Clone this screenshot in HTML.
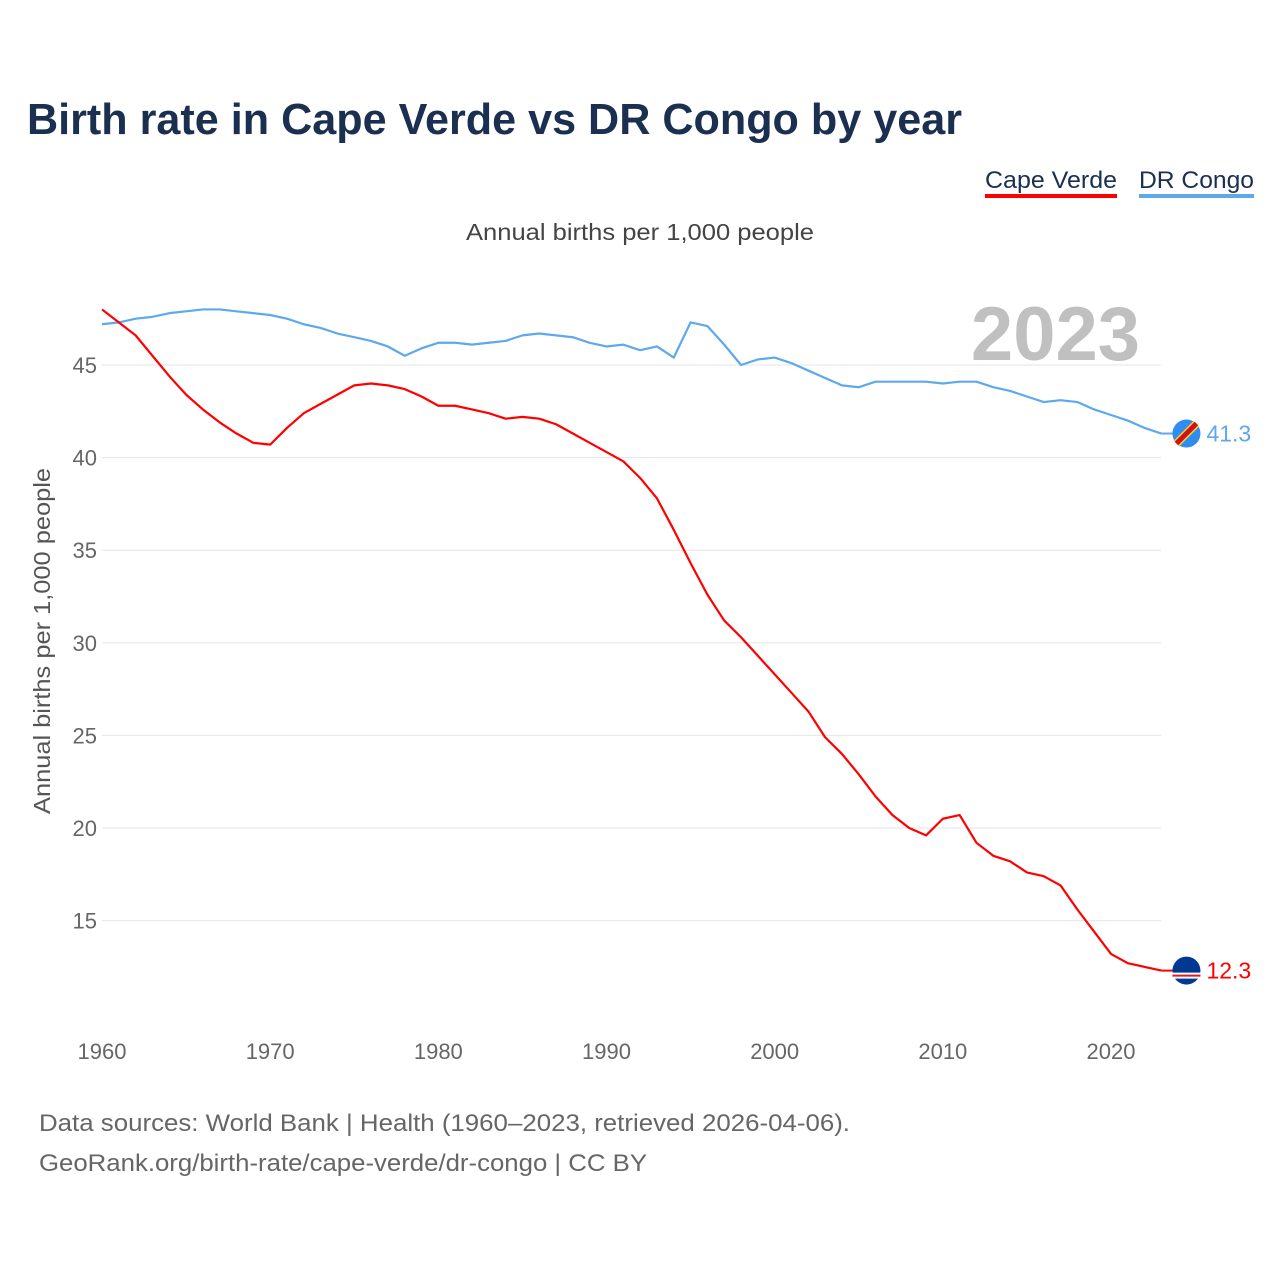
<!DOCTYPE html>
<html><head><meta charset="utf-8"><style>
body{margin:0;background:#fff;width:1280px;height:1280px;overflow:hidden;font-family:"Liberation Sans",sans-serif}
</style></head><body>
<svg width="1280" height="1280" xmlns="http://www.w3.org/2000/svg">
<text x="27" y="134" font-size="44" font-weight="bold" fill="#1b3050" textLength="935" lengthAdjust="spacingAndGlyphs">Birth rate in Cape Verde vs DR Congo by year</text>
<g><text x="985" y="188" font-size="24" fill="#1b3050" textLength="132" lengthAdjust="spacingAndGlyphs">Cape Verde</text><rect x="985" y="194" width="132" height="4" fill="#ff0000"/></g>
<g><text x="1139" y="188" font-size="24" fill="#1b3050" textLength="115" lengthAdjust="spacingAndGlyphs">DR Congo</text><rect x="1139" y="194" width="115" height="4" fill="#5ea8ec"/></g>
<text x="466" y="240" font-size="23" fill="#444" textLength="348" lengthAdjust="spacingAndGlyphs">Annual births per 1,000 people</text>
<text x="1140" y="360" font-size="76" font-weight="bold" fill="#c0c0c0" text-anchor="end">2023</text>
<text transform="translate(50,814) rotate(-90)" font-size="23" fill="#555" textLength="346" lengthAdjust="spacingAndGlyphs">Annual births per 1,000 people</text>
<g id="grid"></g><g id="series"></g>
<text x="39" y="1131" font-size="24" fill="#666" textLength="811" lengthAdjust="spacingAndGlyphs">Data sources: World Bank | Health (1960–2023, retrieved 2026-04-06).</text>
<text x="39" y="1171" font-size="24" fill="#666" textLength="608" lengthAdjust="spacingAndGlyphs">GeoRank.org/birth-rate/cape-verde/dr-congo | CC BY</text>
</svg>
<script>
const years=[];for(let y=1960;y<=2023;y++)years.push(y);
const capeVerde=[48.0,47.3,46.6,45.5,44.4,43.4,42.6,41.9,41.3,40.8,40.7,41.6,42.4,42.9,43.4,43.9,44.0,43.9,43.7,43.3,42.8,42.8,42.6,42.4,42.1,42.2,42.1,41.8,41.3,40.8,40.3,39.8,38.9,37.8,36.1,34.3,32.6,31.2,30.3,29.3,28.3,27.3,26.3,24.9,24.0,22.9,21.7,20.7,20.0,19.6,20.5,20.7,19.2,18.5,18.2,17.6,17.4,16.9,15.6,14.4,13.2,12.7,12.5,12.3];
const drCongo=[47.2,47.3,47.5,47.6,47.8,47.9,48.0,48.0,47.9,47.8,47.7,47.5,47.2,47.0,46.7,46.5,46.3,46.0,45.5,45.9,46.2,46.2,46.1,46.2,46.3,46.6,46.7,46.6,46.5,46.2,46.0,46.1,45.8,46.0,45.4,47.3,47.1,46.1,45.0,45.3,45.4,45.1,44.7,44.3,43.9,43.8,44.1,44.1,44.1,44.1,44.0,44.1,44.1,43.8,43.6,43.3,43.0,43.1,43.0,42.6,42.3,42.0,41.6,41.3];
const yTicks=[15,20,25,30,35,40,45];
const xTicks=[1960,1970,1980,1990,2000,2010,2020];
const NS="http://www.w3.org/2000/svg";
const xs=y=>102+(y-1960)*(1009/60);
const ys=v=>365+(45-v)*18.52;
const grid=document.getElementById('grid'),ser=document.getElementById('series');
function mk(tag,at,parent){const e=document.createElementNS(NS,tag);for(const k in at)e.setAttribute(k,at[k]);parent.appendChild(e);return e;}
yTicks.forEach(v=>{
 const l=mk('line',{x1:102,x2:1161,y1:ys(v),y2:ys(v),stroke:'#e6e6e6','stroke-width':1},grid);
 
 
 const t=mk('text',{x:97,y:ys(v)+8,'font-size':22,fill:'#666','text-anchor':'end'},grid);t.textContent=v;
 
 
});
xTicks.forEach(y=>{
 const t=mk('text',{x:xs(y),y:1059,'font-size':22,fill:'#666','text-anchor':'middle'},grid);t.textContent=y;
 
 
});
function line(data,color,name){
 const p=mk('polyline',{points:data.map((v,i)=>xs(years[i])+','+ys(v)).join(' '),fill:'none',stroke:color,'stroke-width':2.2,'stroke-linejoin':'round'},ser);
 
 
}
line(drCongo,'#5ea8ec','dr-congo-line');
line(capeVerde,'#ff0000','cape-verde-line');
function endMark(data,color,name,flag){
 const v=data[data.length-1],x=xs(2023),y=ys(v);
 mk('line',{x1:x,x2:x+12,y1:y,y2:y,stroke:color,'stroke-width':2},ser);
 const g=mk('g',{},ser);
 
 
 if(flag==='cd'){
  mk('circle',{cx:x+25,cy:y,r:14,fill:'#2f8cf0'},g);
  mk('line',{x1:x+15,y1:y+10,x2:x+35,y2:y-10,stroke:'#f7d618','stroke-width':8},g);
  mk('line',{x1:x+15,y1:y+10,x2:x+35,y2:y-10,stroke:'#ce1021','stroke-width':5},g);
 } else {
  mk('circle',{cx:x+25,cy:y,r:14,fill:'#003893'},g);
  mk('rect',{x:x+11,y:y+2,width:28,height:6,fill:'#fff'},g);
  mk('rect',{x:x+11,y:y+4,width:28,height:2,fill:'#cf2027'},g);
 }
 const t=mk('text',{x:x+45,y:y+8,'font-size':23,fill:color},ser);t.textContent=v.toFixed(1);
 
 
}
endMark(drCongo,'#5ea8ec','dr-congo','cd');
endMark(capeVerde,'#ff0000','cape-verde','cv');
</script>
</body></html>
